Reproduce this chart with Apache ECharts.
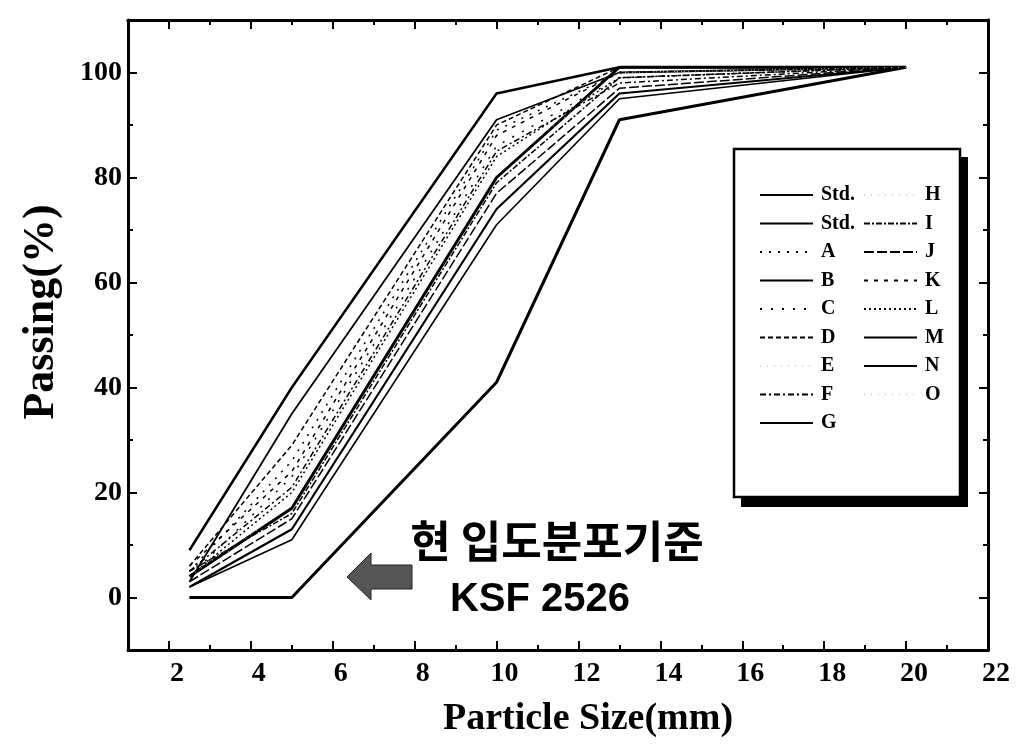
<!DOCTYPE html>
<html>
<head>
<meta charset="utf-8">
<title>Particle size distribution</title>
<script src="https://cdn.jsdelivr.net/npm/echarts@6/dist/echarts.min.js"></script>
<style>
html, body { margin: 0; padding: 0; background: #fff; }
#chart { width: 1025px; height: 747px; }
</style>
</head>
<body>
<div id="chart"></div>
<script>
// sieve sizes (mm)
const sizes = [2.5, 5, 10, 13, 20]

// axis ticks
const xTicks = [2, 4, 6, 8, 10, 12, 14, 16, 18, 20, 22]
const xMinor = [3, 5, 7, 9, 11, 13, 15, 17, 19, 21]
const yTicks = [0, 20, 40, 60, 80, 100]
const yMinor = [10, 30, 50, 70, 90]

// passing (%) per curve
const stdUpper = [9, 40, 96, 101, 101]
const stdLower = [0, 0, 41, 91, 101]
const curveA = [5, 26, 89, 100, 101]
const curveB = [3, 35, 91, 100, 101]
const curveC = [4, 23, 86, 99, 101]
const curveD = [6, 29, 90, 101, 101]
const curveE = [4, 19, 83, 101, 101]
const curveF = [5, 21, 85, 98, 101]
const curveG = [4, 17, 80, 101, 101]
const curveH = [3, 18, 82, 100, 101]
const curveI = [5, 16, 79, 99, 101]
const curveJ = [3, 15, 77, 97, 101]
const curveK = [6, 24, 88, 100, 101]
const curveL = [4, 20, 84, 99, 101]
const curveM = [2, 13, 74, 96, 101]
const curveN = [2, 11, 71, 95, 101]
const curveO = [4, 18, 81, 100, 101]

const serifFont = `'Liberation Serif', 'Times New Roman', serif`
const faint = { color: '#d4d4d4', width: 1, type: [1, 6] }

const curves = [
  { name: 'Std.', data: stdUpper, line: { width: 2.5 } },
  { name: 'Std. ', data: stdLower, line: { width: 3 } },
  { name: 'A', data: curveA, line: { width: 1.5, type: [2, 7] } },
  { name: 'B', data: curveB, line: { width: 1.8 } },
  { name: 'C', data: curveC, line: { width: 1.5, type: [2, 9] } },
  { name: 'D', data: curveD, line: { width: 1.5, type: [5, 3] } },
  { name: 'E', data: curveE, line: faint },
  { name: 'F', data: curveF, line: { width: 1.5, type: [6, 3, 2, 3] } },
  { name: 'G', data: curveG, line: { width: 3 } },
  { name: 'H', data: curveH, line: faint },
  { name: 'I', data: curveI, line: { width: 1.5, type: [6, 2, 2, 2] } },
  { name: 'J', data: curveJ, line: { width: 1.5, type: [10, 3] } },
  { name: 'K', data: curveK, line: { width: 1.5, type: [4, 6] } },
  { name: 'L', data: curveL, line: { width: 1.5, type: [2, 3] } },
  { name: 'M', data: curveM, line: { width: 2.2 } },
  { name: 'N', data: curveN, line: { width: 1.6 } },
  { name: 'O', data: curveO, line: faint }
]

const series = curves.map(c => ({
  name: c.name,
  type: 'line',
  symbol: 'none',
  animation: false,
  lineStyle: Object.assign({ color: '#000' }, c.line),
  itemStyle: { color: '#000' },
  data: c.data.map((v, i) => [sizes[i], v])
}))

function axisX (position, ticks, len, withLabel) {
  return {
    type: 'value',
    position: position,
    min: 1,
    max: 22,
    axisLine: { show: withLabel || position === 'top', onZero: false, lineStyle: { color: '#000', width: 3 } },
    axisTick: { inside: true, length: len, customValues: ticks, lineStyle: { color: '#000', width: 2 } },
    axisLabel: withLabel ? {
      customValues: xTicks,
      margin: 10,
      padding: [0, 0, 0, 16],
      color: '#000',
      fontSize: 28,
      fontWeight: 'bold',
      fontFamily: serifFont
    } : { show: false },
    splitLine: { show: false }
  }
}

function axisY (position, ticks, len, withLabel) {
  return {
    type: 'value',
    position: position,
    min: -10,
    max: 110,
    axisLine: { show: withLabel || position === 'right', onZero: false, lineStyle: { color: '#000', width: 3 } },
    axisTick: { inside: true, length: len, customValues: ticks, lineStyle: { color: '#000', width: 2 } },
    axisLabel: withLabel ? {
      customValues: yTicks,
      margin: 6,
      color: '#000',
      fontSize: 28,
      fontWeight: 'bold',
      fontFamily: serifFont
    } : { show: false },
    splitLine: { show: false }
  }
}

const xMain = axisX('bottom', xTicks, 9, true)
xMain.name = 'Particle Size(mm)'
xMain.nameLocation = 'middle'
xMain.nameGap = 50
xMain.nameTextStyle = { color: '#000', fontSize: 38, fontWeight: 'bold', fontFamily: serifFont, padding: [0, 0, 0, 60] }

const yMain = axisY('left', yTicks, 9, true)
yMain.name = 'Passing(%)'
yMain.nameLocation = 'middle'
yMain.nameGap = 64
yMain.nameTextStyle = { color: '#000', fontSize: 44, fontWeight: 'bold', fontFamily: serifFont, padding: [0, 0, 0, 46] }

const legendBase = {
  orient: 'vertical',
  top: 180,
  itemWidth: 53,
  itemHeight: 14,
  itemGap: 8.5,
  selectedMode: false,
  // line sample only, no symbol in the middle
  itemStyle: { color: 'rgba(0,0,0,0)', borderWidth: 0, opacity: 0 },
  formatter: name => name.trim(),
  textStyle: { color: '#000', fontSize: 20, lineHeight: 20, fontWeight: 'bold', fontFamily: serifFont, padding: [0, 0, 0, 3] }
}

const chart = echarts.init(document.getElementById('chart'))
chart.setOption({
  backgroundColor: '#fff',
  animation: false,
  grid: { left: 128, right: 37, top: 20, bottom: 97, containLabel: false },
  xAxis: [
    xMain,
    axisX('bottom', xMinor, 5, false),
    axisX('top', xTicks, 9, false),
    axisX('top', xMinor, 5, false)
  ],
  yAxis: [
    yMain,
    axisY('left', yMinor, 5, false),
    axisY('right', yTicks, 9, false),
    axisY('right', yMinor, 5, false)
  ],
  legend: [
    Object.assign({}, legendBase, { left: 754, data: curves.slice(0, 9).map(c => c.name) }),
    Object.assign({}, legendBase, { left: 858, data: curves.slice(9).map(c => c.name) })
  ],
  graphic: [
    // legend frame with its hard drop shadow
    { type: 'rect', shape: { x: 741, y: 157, width: 227, height: 350 }, style: { fill: '#000' }, z: 1 },
    { type: 'rect', shape: { x: 734, y: 149, width: 226, height: 348 }, style: { fill: '#fff', stroke: '#000', lineWidth: 2.5 }, z: 2 },
    // annotation
    {
      type: 'polygon',
      shape: { points: [[347, 577], [371, 553], [371, 565], [412, 565], [412, 589], [371, 589], [371, 600]] },
      style: { fill: '#555', stroke: '#222', lineWidth: 1 },
      z: 5
    },
    {
      type: 'text', x: 557, y: 541, z: 5,
      style: { text: '현 입도분포기준', fill: '#000', font: `bold 44px 'Noto Sans CJK KR', sans-serif`, align: 'center', verticalAlign: 'middle' }
    },
    {
      type: 'text', x: 540, y: 600, z: 5,
      style: { text: 'KSF 2526', fill: '#000', font: `bold 40px 'Liberation Sans', Arial, sans-serif`, align: 'center', verticalAlign: 'middle' }
    }
  ],
  series: series
})
</script>
</body>
</html>
